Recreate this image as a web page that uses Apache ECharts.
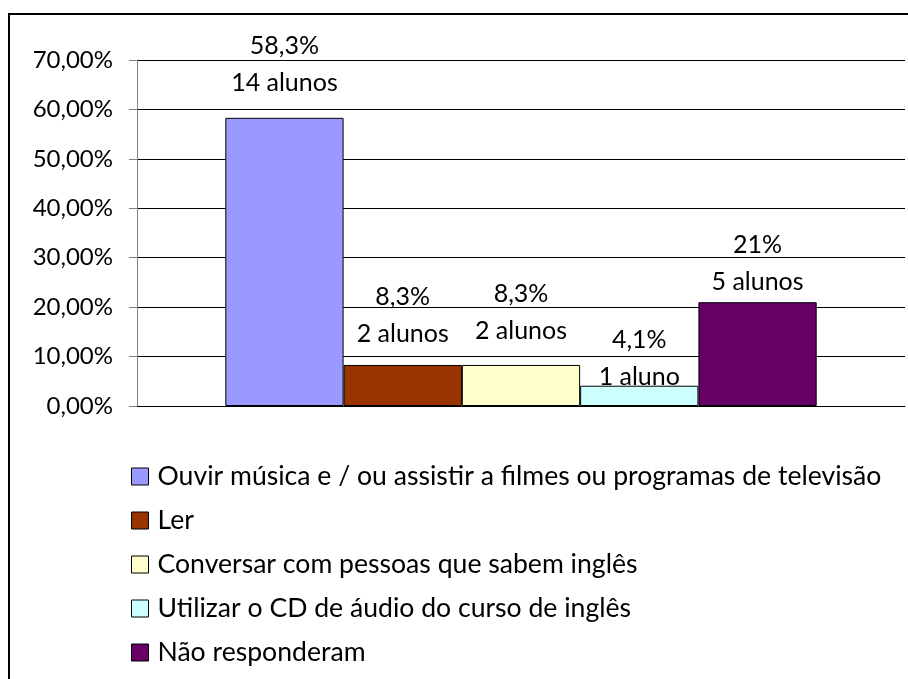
<!DOCTYPE html>
<html>
<head>
<meta charset="utf-8">
<script src="https://cdn.jsdelivr.net/npm/echarts@6/dist/echarts.min.js"></script>
<style>
  html, body { margin: 0; padding: 0; background: #fff; }
  #chart { width: 908px; height: 679px; }
</style>
</head>
<body>
<div id="chart"></div>
<script>
// dados do gráfico
var categorias = [
  'Ouvir música e / ou assistir a filmes ou programas de televisão',
  'Ler',
  'Conversar com pessoas que sabem inglês',
  'Utilizar o CD de áudio do curso de inglês',
  'Não responderam'
];
var valores = [58.3, 8.3, 8.3, 4.1, 21];
var rotulosPct = ['58,3%', '8,3%', '8,3%', '4,1%', '21%'];
var rotulosAlunos = ['14 alunos', '2 alunos', '2 alunos', '1 aluno', '5 alunos'];
var yTicks = [0, 10, 20, 30, 40, 50, 60, 70];

var cores = ['#9999FF', '#993300', '#FFFFCC', '#CCFFFF', '#660066'];
var distRotulo = [16, 13, 16, -10, 2];
var fonte = 'Lato, "Open Sans", sans-serif';

var chart = echarts.init(document.getElementById('chart'));

var series = [];
for (var i = 0; i < categorias.length; i++) {
  series.push({
    name: categorias[i],
    type: 'bar',
    data: [valores[i]],
    barGap: '0%',
    barCategoryGap: '23%',
    itemStyle: { color: cores[i], borderColor: '#000', borderWidth: 1 },
    label: {
      show: true,
      position: 'top',
      distance: distRotulo[i],
      formatter: rotulosPct[i] + '\n' + rotulosAlunos[i],
      fontFamily: fonte,
      fontSize: 25,
      lineHeight: 37,
      color: '#000'
    },
    silent: true
  });
}

var option = {
  animation: false,
  backgroundColor: '#fff',
  grid: { left: 137, right: 3, top: 60, bottom: 273, containLabel: false },
  xAxis: {
    type: 'category',
    data: [''],
    axisLine: { show: true, lineStyle: { color: '#000', width: 1 } },
    axisTick: { show: false },
    axisLabel: { show: false }
  },
  yAxis: {
    type: 'value',
    min: yTicks[0],
    max: yTicks[yTicks.length - 1],
    interval: 10,
    axisLine: { show: true, lineStyle: { color: '#808080', width: 1 } },
    axisTick: { show: true, length: 8, lineStyle: { color: '#808080' } },
    splitLine: { show: true, lineStyle: { color: '#000', width: 1 } },
    axisLabel: {
      margin: 24,
      fontFamily: fonte,
      fontSize: 24,
      color: '#000',
      formatter: function (v) { return v.toFixed(2).replace('.', ',') + '%'; }
    }
  },
  legend: {
    orient: 'vertical',
    left: 126,
    top: 458,
    itemWidth: 17,
    itemHeight: 17,
    itemGap: 17,
    icon: 'rect',
    textStyle: { fontFamily: fonte, fontSize: 26.6, lineHeight: 26, color: '#000', padding: [0, 0, 0, 4] },
    data: categorias.map(function (c, i) {
      return { name: c, itemStyle: { color: cores[i], borderColor: '#000', borderWidth: 1 } };
    })
  },
  graphic: [{
    type: 'rect',
    shape: { x: 9, y: 14, width: 1000, height: 1000 },
    style: { fill: 'none', stroke: '#000', lineWidth: 2 },
    silent: true
  }],
  series: series
};

chart.setOption(option);
</script>
</body>
</html>
